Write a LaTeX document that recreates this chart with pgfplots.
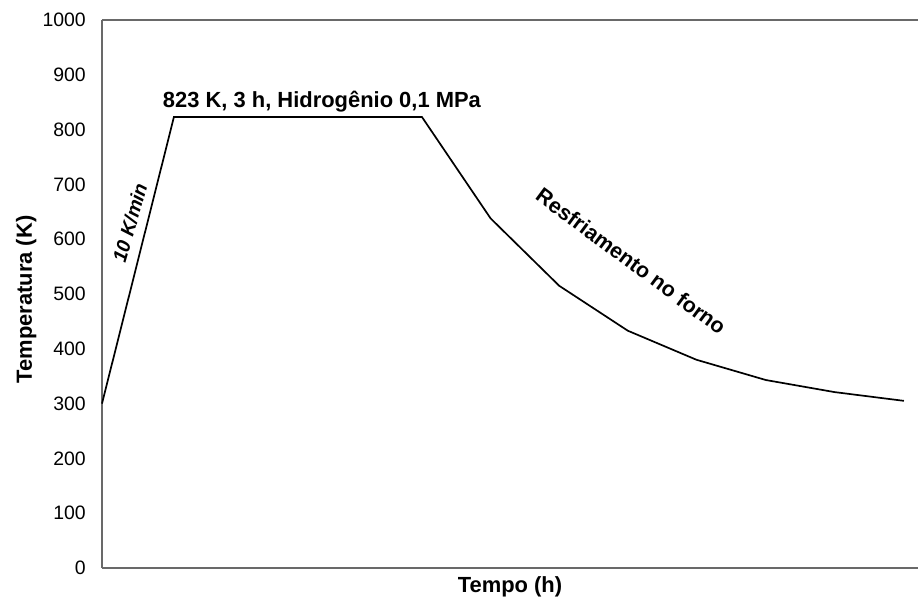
\documentclass[border=0pt]{standalone}
\usepackage{fontspec}
\setmainfont{Liberation Sans}
\usepackage{pgfplots}
\pgfplotsset{compat=1.18}
\definecolor{framegray}{RGB}{105,105,105}
\begin{document}
\begin{tikzpicture}
\begin{axis}[
  at={(0,0)}, anchor=south west,
  scale only axis, width=816bp, height=548bp,
  xmin=0, xmax=9.87, ymin=0, ymax=1000,
  ytick={0,100,...,1000}, xtick=\empty,
  axis x line*=box, axis y line*=left,
  axis line style={draw=framegray, line width=1.2bp},
  major tick length=0pt,
  clip=false,
  /pgf/number format/assume math mode=true,
  /pgf/number format/1000 sep={},
  yticklabel style={font=\fontsize{19.5}{21}\selectfont, anchor=east, inner xsep=0pt, xshift=-16bp},
  ylabel={Temperatura (K)},
  ylabel style={font=\fontsize{22}{24}\selectfont\bfseries, at={(axis description cs:-0.0858,0.49)}, anchor=base, rotate=0},
  xlabel={Tempo (h)},
  xlabel style={font=\fontsize{22}{24}\selectfont\bfseries, at={(axis description cs:0.5,0)}, anchor=base, yshift=-24bp},
]
\addplot[black, line width=1.7bp] coordinates {
  (0,300) (0.87,823) (3.87,823) (4.70,638) (5.53,515) (6.36,433)
  (7.19,380) (8.03,343) (8.86,321) (9.70,305)
};
\node[anchor=base, font=\fontsize{22}{24}\selectfont\bfseries] at (axis cs:2.66,841) {823 K, 3 h, Hidrogênio 0,1 MPa};
\node[rotate=74, font=\fontsize{19.5}{21}\selectfont\bfseries\itshape] at (axis cs:0.339,630) {10 K/min};
\node[rotate=-36.5, font=\fontsize{21.5}{23}\selectfont\bfseries] at (axis cs:6.40,560) {Resfriamento no forno};
\coordinate (ll) at (rel axis cs:0,0);
\end{axis}
\pgfresetboundingbox
\useasboundingbox (ll) ++(-102bp,-29bp) rectangle ++(918bp,597bp);
\end{tikzpicture}
\end{document}
